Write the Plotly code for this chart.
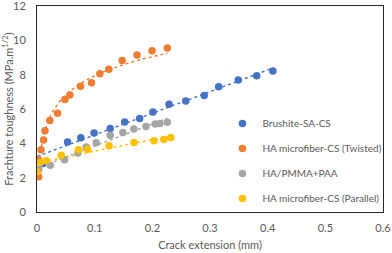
import numpy as np
import plotly.graph_objects as go

# Data
blue_name = "Brushite-SA-CS"
blue_x = [0.0104, 0.053, 0.076, 0.099, 0.127, 0.152, 0.178, 0.201, 0.229, 0.258, 0.290, 0.315, 0.349, 0.381, 0.409]
blue_y = [2.83, 4.08, 4.33, 4.60, 4.87, 5.24, 5.45, 5.82, 6.27, 6.46, 6.78, 7.30, 7.69, 7.94, 8.21]

orange_name = "HA microfiber-CS (Twisted)"
orange_x = [0.0030, 0.0026, 0.0069, 0.0114, 0.0138, 0.0222, 0.0357, 0.0484, 0.0570, 0.0755, 0.0945, 0.109, 0.1246, 0.1476, 0.1735, 0.1995, 0.226]
orange_y = [2.06, 3.03, 3.63, 4.19, 4.74, 5.33, 5.75, 6.56, 6.82, 7.33, 7.53, 8.05, 8.32, 8.83, 9.15, 9.39, 9.55]

gray_name = "HA/PMMA+PAA"
gray_x = [0.003, 0.023, 0.0478, 0.071, 0.0853, 0.1026, 0.127, 0.149, 0.168, 0.189, 0.205, 0.213, 0.226]
gray_y = [2.47, 2.73, 3.05, 3.43, 3.79, 4.04, 4.47, 4.63, 4.83, 4.98, 5.12, 5.16, 5.23]

yellow_name = "HA microfiber-CS (Parallel)"
yellow_x = [0.0, 0.0057, 0.016, 0.042, 0.072, 0.0876, 0.125, 0.168, 0.203, 0.220, 0.232]
yellow_y = [2.35, 2.89, 2.99, 3.31, 3.63, 3.65, 3.86, 4.05, 4.15, 4.23, 4.34]

x_ticks = [0, 0.1, 0.2, 0.3, 0.4, 0.5, 0.6]
y_ticks = [0, 2, 4, 6, 8, 10, 12]

colors = {"blue": "#4472C4", "orange": "#ED7D31", "gray": "#A5A5A5", "yellow": "#FFC000"}
font_color = "#595959"
FONT = "Lato"

fig = go.Figure()

series = [
    (blue_name, blue_x, blue_y, colors["blue"], "linear"),
    (orange_name, orange_x, orange_y, colors["orange"], "log"),
    (gray_name, gray_x, gray_y, colors["gray"], "linear"),
    (yellow_name, yellow_x, yellow_y, colors["yellow"], "linear"),
]

# Trendlines (fitted from the data, as in the original spreadsheet chart)
for name, xs, ys, col, kind in series:
    xa = np.array(xs, dtype=float)
    ya = np.array(ys, dtype=float)
    if kind == "linear":
        m, b = np.polyfit(xa, ya, 1)
        tx = np.linspace(0, xa.max(), 50)
        ty = m * tx + b
    else:
        mask = xa > 0
        bb, aa = np.polyfit(np.log(xa[mask]), ya[mask], 1)
        tx = np.linspace(xa[mask].min(), xa.max(), 300)
        ty = aa + bb * np.log(tx)
    fig.add_trace(go.Scatter(x=tx, y=ty, mode="lines", showlegend=False, hoverinfo="skip",
                             line=dict(color=col, width=1.4, dash="dot")))

for i, (name, xs, ys, col, kind) in enumerate(series):
    fig.add_trace(go.Scatter(x=xs, y=ys, mode="markers", name=name, legendgroup=f"g{i}",
                             marker=dict(color=col, size=7.5)))

axis_common = dict(showgrid=False, zeroline=False, showline=True, mirror=True,
                   linecolor="#262626", linewidth=1, ticks="", ticklabeloverflow="allow",
                   tickfont=dict(family=FONT, size=11, color=font_color))

fig.update_xaxes(range=[0, 0.6], tickvals=x_ticks, ticktext=[str(v) for v in x_ticks],
                 title=dict(text="Crack extension (mm)", font=dict(family=FONT, size=11, color=font_color), standoff=8),
                 ticklabelstandoff=6, automargin=False, **axis_common)
fig.update_yaxes(range=[0, 12], tickvals=y_ticks, ticktext=[str(v) for v in y_ticks],
                 title=dict(text="Frachture toughness (MPa.m<sup>1/2</sup>)", font=dict(family=FONT, size=11, color=font_color), standoff=5),
                 ticklabelstandoff=8, automargin=False, **axis_common)

fig.update_layout(
    width=392, height=253, autosize=False,
    margin=dict(l=37, r=9, t=6, b=41, autoexpand=False),
    paper_bgcolor="white", plot_bgcolor="white",
    font=dict(family=FONT, size=10, color=font_color),
    legend=dict(x=0.536, y=0.5, xanchor="left", yanchor="top",
                bgcolor="rgba(0,0,0,0)", font=dict(family=FONT, size=10, color=font_color),
                itemwidth=30, tracegroupgap=6),
    showlegend=True,
)

post = (
    "document.body.style.margin='0';"
    "document.body.style.overflow='hidden';"
    "var st=document.createElement('style');"
    "st.textContent='.modebar-container{display:none !important;}';"
    "document.head.appendChild(st);"
)
fig.write_html("out.html", post_script=post)
